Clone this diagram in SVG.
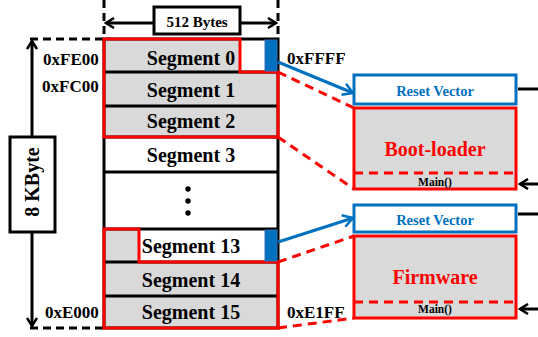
<svg xmlns="http://www.w3.org/2000/svg" width="538" height="337" viewBox="0 0 538 337">
<defs>
<style>
text{font-family:"Liberation Serif","Times New Roman",serif;font-weight:bold;}
.seg{font-size:20px;text-anchor:middle;fill:#000;}
.addr{font-size:17px;fill:#000;}
.blk{stroke:#000;stroke-width:3;fill:none;}
.dash{stroke:#000;stroke-width:3;fill:none;stroke-dasharray:8,5;}
.red{stroke:#FF0000;stroke-width:3;fill:none;}
.rdash{stroke:#FF0000;stroke-width:3;fill:none;stroke-dasharray:9,6;}
.blue{stroke:#0070C0;stroke-width:3;fill:none;}
.gray{fill:#D9D9D9;}
.rv{font-size:14.5px;fill:#0070C0;text-anchor:middle;}
.big{font-size:20px;fill:#FF0000;text-anchor:middle;}
.main{font-size:11.5px;fill:#000;text-anchor:middle;}
</style>
<marker id="ab" viewBox="0 0 12 12" refX="10" refY="6" markerWidth="12" markerHeight="12" markerUnits="userSpaceOnUse" orient="auto">
<path d="M2,1 L10,6 L2,11" fill="none" stroke="#000" stroke-width="2.5"/>
</marker>
<marker id="abl" viewBox="0 0 14 14" refX="12" refY="7" markerWidth="14" markerHeight="14" markerUnits="userSpaceOnUse" orient="auto">
<path d="M2,1 L12,7 L2,13" fill="none" stroke="#0070C0" stroke-width="2.5"/>
</marker>
</defs>

<g id="width-dim">
<line class="dash" x1="104" y1="0" x2="104" y2="39"/>
<line class="dash" x1="278" y1="0" x2="278" y2="39"/>
<line class="blk" x1="154" y1="23" x2="106" y2="23" marker-end="url(#ab)"/>
<line class="blk" x1="240" y1="23" x2="276" y2="23" marker-end="url(#ab)"/>
<rect x="154" y="7" width="86" height="27" fill="#fff" stroke="#000" stroke-width="3"/>
<text x="197" y="27" font-size="15" text-anchor="middle">512 Bytes</text>
</g>

<g id="size-dim">
<line class="dash" x1="30" y1="39" x2="104" y2="39"/>
<line class="dash" x1="30" y1="328" x2="104" y2="328"/>
<line class="blk" x1="32" y1="137" x2="32" y2="41" marker-end="url(#ab)"/>
<line class="blk" x1="32" y1="232" x2="32" y2="326" marker-end="url(#ab)"/>
<rect x="10" y="137" width="45" height="95" fill="#fff" stroke="#000" stroke-width="3"/>
<text transform="translate(39,182) rotate(-90)" font-size="20" text-anchor="middle">8 KByte</text>
</g>

<g id="memory">
<rect class="gray" x="104" y="39" width="136" height="33"/>
<rect class="gray" x="104" y="72" width="174" height="65"/>
<rect class="gray" x="104" y="229" width="35" height="33"/>
<rect class="gray" x="104" y="262" width="174" height="66"/>
<rect class="blk" x="104" y="39" width="174" height="289"/>
<line class="blk" x1="104" y1="72" x2="278" y2="72"/>
<line class="blk" x1="104" y1="106" x2="278" y2="106"/>
<line class="blk" x1="104" y1="137" x2="278" y2="137"/>
<line class="blk" x1="104" y1="172" x2="278" y2="172"/>
<line class="blk" x1="104" y1="229" x2="278" y2="229"/>
<line class="blk" x1="104" y1="262" x2="278" y2="262"/>
<line class="blk" x1="104" y1="296" x2="278" y2="296"/>
<polygon class="red" points="104,39 240,39 240,72 278,72 278,137 104,137"/>
<polygon class="red" points="104,229 139,229 139,262 278,262 278,328 104,328"/>
<rect x="265" y="40" width="12" height="31" fill="#0070C0" stroke="#2E75B6" stroke-width="1"/>
<rect x="265" y="230" width="12" height="31" fill="#0070C0" stroke="#2E75B6" stroke-width="1"/>
<text class="seg" x="191" y="65">Segment 0</text>
<text class="seg" x="191" y="97">Segment 1</text>
<text class="seg" x="191" y="128">Segment 2</text>
<text class="seg" x="191" y="162">Segment 3</text>
<circle cx="188" cy="189" r="2.7"/>
<circle cx="188" cy="201" r="2.7"/>
<circle cx="188" cy="213" r="2.7"/>
<text class="seg" x="191" y="253">Segment 13</text>
<text class="seg" x="191" y="287">Segment 14</text>
<text class="seg" x="191" y="319">Segment 15</text>
</g>

<g id="addresses">
<text class="addr" x="43" y="65">0xFE00</text>
<text class="addr" x="42" y="92">0xFC00</text>
<text class="addr" x="45" y="318">0xE000</text>
<text class="addr" x="287" y="64">0xFFFF</text>
<text class="addr" x="287" y="318">0xE1FF</text>
</g>

<g id="connectors">
<line class="blue" x1="278" y1="62" x2="353" y2="93" marker-end="url(#abl)"/>
<line class="blue" x1="278" y1="242" x2="353" y2="218" marker-end="url(#abl)"/>
<line class="rdash" x1="278" y1="72" x2="354" y2="108"/>
<line class="rdash" x1="278" y1="137" x2="354" y2="189"/>
<line class="rdash" x1="278" y1="262" x2="354" y2="236"/>
<line class="rdash" x1="278" y1="328" x2="354" y2="318"/>
<line class="blk" x1="518" y1="89" x2="538" y2="89"/>
<line class="blk" x1="518" y1="214" x2="538" y2="214"/>
<line class="blk" x1="538" y1="184" x2="520" y2="184" marker-end="url(#ab)"/>
<line class="blk" x1="538" y1="309" x2="520" y2="309" marker-end="url(#ab)"/>
</g>

<g id="bootloader">
<rect x="354" y="75" width="162" height="29" fill="#fff" class="blue" style="fill:#fff"/>
<text class="rv" x="435" y="96">Reset Vector</text>
<rect x="354" y="108" width="162" height="81" class="red" style="fill:#D9D9D9"/>
<line class="rdash" x1="354" y1="173" x2="516" y2="173"/>
<text class="big" x="435" y="156">Boot-loader</text>
<text class="main" x="435" y="186">Main()</text>
</g>

<g id="firmware">
<rect x="354" y="205" width="162" height="27" class="blue" style="fill:#fff"/>
<text class="rv" x="435" y="225">Reset Vector</text>
<rect x="354" y="236" width="162" height="82" class="red" style="fill:#D9D9D9"/>
<line class="rdash" x1="354" y1="302" x2="516" y2="302"/>
<text class="big" x="435" y="284">Firmware</text>
<text class="main" x="435" y="313">Main()</text>
</g>
</svg>
